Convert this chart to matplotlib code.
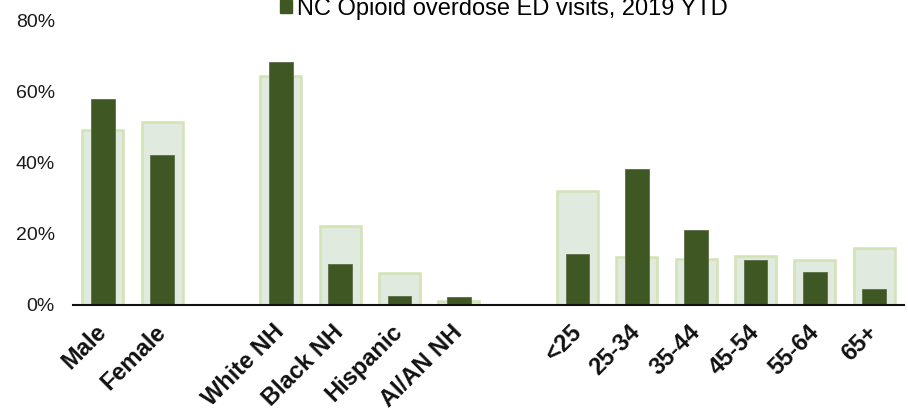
import numpy as np
import matplotlib
matplotlib.use("Agg")
import matplotlib.pyplot as plt
from matplotlib.patches import Patch

plt.rcParams['font.family'] = ['Liberation Sans', 'DejaVu Sans']

# 그룹 사이 빈 칸은 None 으로 둔다
categories = ["Male", "Female", None,
              "White NH", "Black NH", "Hispanic", "AI/AN NH", None,
              "<25", "25-34", "35-44", "45-54", "55-64", "65+"]

# NC 인구 구성 (%), 연한 막대
population_pct = [49.1, 51.4, None,
                  64.4, 22.2, 9.0, 1.0, None,
                  32.0, 13.4, 12.8, 13.7, 12.7, 16.1]

# 오피오이드 과다복용 응급실 방문 (%), 2019 YTD
ed_visits_pct = [57.8, 42.1, None,
                 68.1, 11.4, 2.6, 2.2, None,
                 14.3, 38.2, 21.1, 12.6, 9.2, 4.5]

legend_label = "NC Opioid overdose ED visits, 2019 YTD"
y_ticks = [0, 20, 40, 60, 80]

DARK = "#3f5823"
LIGHT_FILL = "#e1eadf"
LIGHT_EDGE = "#d2e3b4"


def main():
    fig = plt.figure(figsize=(9.08, 4.09), dpi=100)
    ax = fig.add_axes([0.0804, 0.2543, 0.9152, 0.6968])

    idx = [i for i, c in enumerate(categories) if c is not None]
    x = np.array(idx, dtype=float)
    pop = [population_pct[i] for i in idx]
    ed = [ed_visits_pct[i] for i in idx]
    labels = [categories[i] for i in idx]

    ax.bar(x, pop, width=0.69, color=LIGHT_FILL, edgecolor=LIGHT_EDGE,
           linewidth=1.8, zorder=2)
    ax.bar(x, ed, width=0.40, color=DARK, edgecolor="#5b6e48",
           linewidth=0.6, zorder=3)

    ax.set_xlim(-0.5, len(categories) - 0.5)
    ax.set_ylim(0, 80)
    ax.set_yticks(y_ticks)
    ax.set_yticklabels([f"{v}%" for v in y_ticks], fontsize=14, color="#1a1a1a")
    ax.tick_params(axis='y', length=0, pad=13)

    ax.set_xticks(x)
    ax.set_xticklabels(labels, rotation=45, ha='right', va='center',
                       rotation_mode='anchor', fontsize=17,
                       fontweight='bold', color="#111111")
    ax.tick_params(axis='x', length=0, pad=17)

    for side in ("top", "right", "left"):
        ax.spines[side].set_visible(False)
    ax.spines["bottom"].set_linewidth(1.5)
    ax.spines["bottom"].set_color("#111111")
    ax.spines["bottom"].set_zorder(4)

    handle = Patch(facecolor=DARK, edgecolor=DARK)
    fig.legend([handle], [legend_label], loc='center',
               bbox_to_anchor=(0.555, 0.978), frameon=False,
               fontsize=17, handlelength=0.5, handleheight=0.5,
               handletextpad=0.25, borderpad=0, borderaxespad=0)

    fig.savefig("out.png", dpi=100)
    plt.close(fig)


if __name__ == "__main__":
    main()
